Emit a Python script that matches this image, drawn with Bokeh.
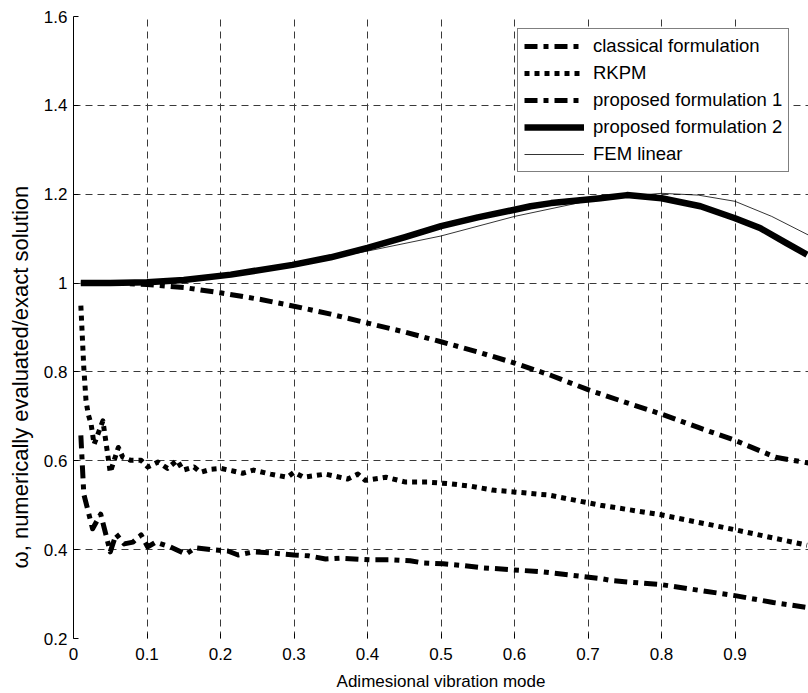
from bokeh.plotting import figure
from bokeh.models import FixedTicker, Legend, LegendItem, Range1d, Title
from bokeh.embed import file_html
from bokeh.resources import INLINE

# ---------------- data ----------------
classical_x = [0.01, 0.05, 0.1, 0.15, 0.2, 0.255, 0.3, 0.35, 0.4, 0.45, 0.5, 0.55,
               0.6, 0.65, 0.7, 0.75, 0.8, 0.85, 0.9, 0.955, 1.0]
classical_y = [1.0, 1.0, 0.997, 0.99, 0.978, 0.963, 0.948, 0.93, 0.91, 0.89, 0.868, 0.845,
               0.82, 0.792, 0.76, 0.732, 0.705, 0.675, 0.646, 0.608, 0.595]

rkpm_x = [0.010, 0.014, 0.017, 0.020, 0.024, 0.028, 0.040, 0.050, 0.061, 0.067, 0.078,
          0.092, 0.101, 0.115, 0.128, 0.141, 0.149, 0.164, 0.173, 0.187, 0.200, 0.217,
          0.230, 0.245, 0.268, 0.291, 0.300, 0.313, 0.343, 0.373, 0.387, 0.397, 0.425,
          0.452, 0.482, 0.513, 0.540, 0.570, 0.599, 0.631, 0.646, 0.717, 0.801, 0.902, 0.998]
rkpm_y = [0.949, 0.810, 0.736, 0.705, 0.682, 0.637, 0.690, 0.574, 0.630, 0.608, 0.601,
          0.601, 0.586, 0.597, 0.583, 0.601, 0.579, 0.586, 0.574, 0.581, 0.583, 0.577,
          0.572, 0.579, 0.570, 0.563, 0.574, 0.563, 0.570, 0.559, 0.570, 0.556, 0.563,
          0.552, 0.552, 0.548, 0.543, 0.534, 0.530, 0.525, 0.523, 0.500, 0.478, 0.444, 0.410]

pf1_x = [0.010, 0.014, 0.026, 0.037, 0.050, 0.058, 0.069, 0.081, 0.092, 0.101, 0.112,
         0.132, 0.153, 0.166, 0.187, 0.210, 0.224, 0.245, 0.268, 0.300, 0.320, 0.343,
         0.363, 0.404, 0.435, 0.458, 0.476, 0.503, 0.531, 0.558, 0.594, 0.639, 0.717,
         0.734, 0.785, 0.801, 0.853, 0.902, 0.952, 0.998]
pf1_y = [0.657, 0.525, 0.447, 0.480, 0.395, 0.435, 0.413, 0.417, 0.433, 0.406, 0.417,
         0.406, 0.390, 0.404, 0.400, 0.397, 0.388, 0.395, 0.393, 0.388, 0.386, 0.379,
         0.381, 0.377, 0.377, 0.375, 0.370, 0.368, 0.364, 0.359, 0.355, 0.350, 0.335,
         0.330, 0.323, 0.321, 0.308, 0.296, 0.281, 0.270]

pf2_x = [0.01, 0.05, 0.1, 0.15, 0.214, 0.298, 0.35, 0.4, 0.45, 0.5, 0.55, 0.6, 0.622,
         0.65, 0.7, 0.717, 0.753, 0.8, 0.853, 0.9, 0.934, 0.97, 0.998]
pf2_y = [1.0, 1.0, 1.002, 1.007, 1.019, 1.041, 1.058, 1.079, 1.103, 1.128, 1.148, 1.165,
         1.173, 1.18, 1.188, 1.191, 1.198, 1.191, 1.173, 1.146, 1.124, 1.09, 1.064]

fem_x = [0.01, 0.1, 0.2, 0.3, 0.35, 0.4, 0.5, 0.6, 0.7, 0.75, 0.8, 0.85, 0.9, 0.95, 1.0]
fem_y = [1.0, 1.001, 1.017, 1.04, 1.056, 1.072, 1.106, 1.15, 1.185, 1.195, 1.202, 1.198,
         1.184, 1.15, 1.108]

x_ticks = [0, 0.1, 0.2, 0.3, 0.4, 0.5, 0.6, 0.7, 0.8, 0.9]
x_tick_labels = ["0", "0.1", "0.2", "0.3", "0.4", "0.5", "0.6", "0.7", "0.8", "0.9"]
y_ticks = [0.2, 0.4, 0.6, 0.8, 1.0, 1.2, 1.4, 1.6]
y_tick_labels = ["0.2", "0.4", "0.6", "0.8", "1", "1.2", "1.4", "1.6"]

series_names = ["classical formulation", "RKPM", "proposed formulation 1",
                "proposed formulation 2", "FEM linear"]
y_title = "ω, numerically evaluated/exact solution"
x_title = "Adimesional vibration mode"

FONT = "Liberation Sans"

p = figure(width=808, height=693, x_range=Range1d(0, 1), y_range=Range1d(0.2, 1.6),
           output_backend="svg", toolbar_location=None,
           min_border_left=73, min_border_right=0, min_border_top=16, min_border_bottom=48)
p.outline_line_color = None
p.background_fill_color = "white"
p.border_fill_color = "white"

# axes
p.xaxis.ticker = FixedTicker(ticks=x_ticks)
p.xaxis.major_label_overrides = dict(zip(x_ticks, x_tick_labels))
p.yaxis.ticker = FixedTicker(ticks=y_ticks)
p.yaxis.major_label_overrides = dict(zip(y_ticks, y_tick_labels))
for ax in (p.xaxis, p.yaxis):
    ax.major_tick_in = 5
    ax.major_tick_out = 0
    ax.minor_tick_line_color = None
    ax.major_label_text_font = FONT
    ax.major_label_text_font_size = "17px"
    ax.major_label_text_color = "black"
    ax.axis_label_text_font = FONT
    ax.axis_label_text_font_style = "normal"
    ax.axis_label_text_color = "black"
    ax.major_tick_line_color = "black"
p.xaxis.axis_label_text_font_size = "17px"
p.xaxis.axis_line_color = None
p.yaxis.axis_line_color = "black"
p.xaxis.major_label_standoff = 9
p.yaxis.major_label_standoff = 6
p.xaxis.axis_label = x_title
p.xaxis.axis_label_standoff = 9

# y title as a left-side Title, started a fixed distance above the frame bottom
ytitle = Title(text=y_title, align="left", offset=70, standoff=12, vertical_align="top",
               text_font=FONT, text_font_size="22px", text_font_style="normal",
               text_color="black")
p.add_layout(ytitle, "left")

# grid
for g in (p.xgrid, p.ygrid):
    g.grid_line_color = "#3a3a3a"
    g.grid_line_dash = "7 5"
    g.grid_line_width = 1

r_class = p.line(classical_x, classical_y, color="black", line_width=5,
                 line_dash="13 6 5 6", line_join="round")
r_rkpm = p.line(rkpm_x, rkpm_y, color="black", line_width=5,
                line_dash="5 5", line_join="round")
r_pf1 = p.line(pf1_x, pf1_y, color="black", line_width=5,
               line_dash="13 6 5 6", line_join="round")
r_pf2 = p.line(pf2_x, pf2_y, color="black", line_width=6.5, line_join="round")
r_fem = p.line(fem_x, fem_y, color="black", line_width=0.8)

renderers = [r_class, r_rkpm, r_pf1, r_pf2, r_fem]
legend = Legend(items=[LegendItem(label=n, renderers=[r]) for n, r in zip(series_names, renderers)],
                location=(444, 466))
legend.margin = 0
legend.padding = 6
legend.spacing = 5
legend.glyph_width = 60
legend.glyph_height = 20
legend.label_height = 20
legend.label_standoff = 9
legend.label_text_font = FONT
legend.label_text_font_size = "18.5px"
legend.label_text_color = "black"
legend.border_line_color = "black"
legend.border_line_width = 1
legend.background_fill_color = "white"
legend.background_fill_alpha = 1
p.add_layout(legend)

open("out.html", "w").write(file_html(p, INLINE))
